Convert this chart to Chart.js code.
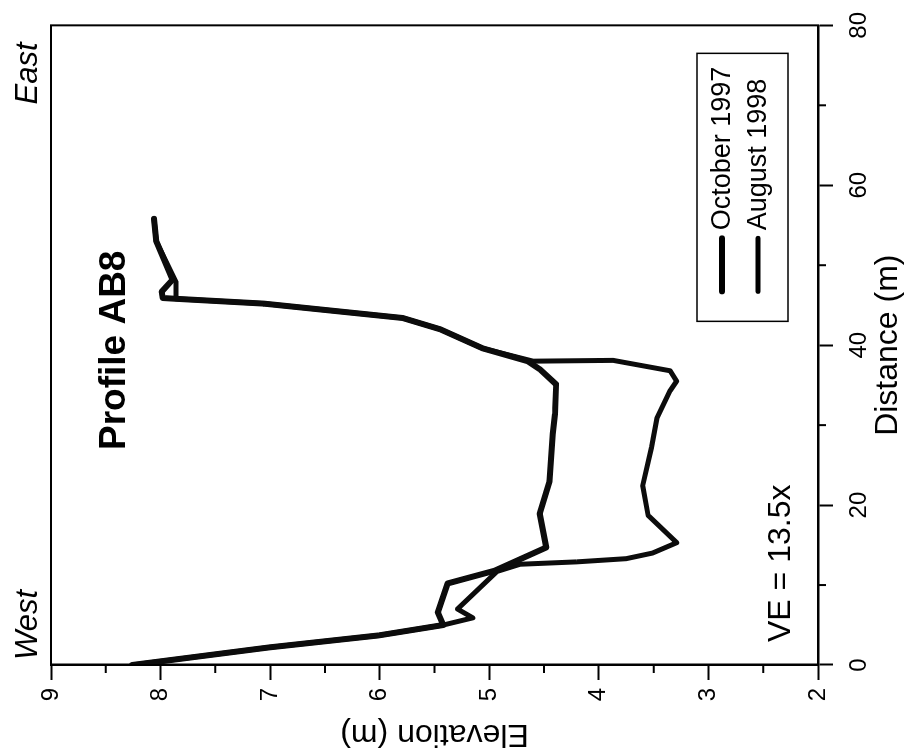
<!DOCTYPE html>
<html>
<head>
<meta charset="utf-8">
<script src="https://cdn.jsdelivr.net/npm/chart.js@4/dist/chart.umd.min.js"></script>
<style>
html, body { margin: 0; padding: 0; background: #fff; }
#wrap { position: relative; width: 907px; height: 755px; overflow: hidden; background: #fff; }
/* the chart is drawn upright, then the whole canvas is turned a quarter left like the scan */
#profile { position: absolute; left: 0; top: 0; transform-origin: 0 0; transform: translate(0, 755px) rotate(-90deg); }
</style>
</head>
<body>
<div id="wrap"><canvas id="profile" width="755" height="907"></canvas></div>
<script>
/* globals Chart: false */

// October 1997 profile (distance m, elevation m)
var octDist = [0, 2.2, 3.7, 5.0, 6.6, 10.2, 11.8, 14.7, 18.9, 23.0, 28.9, 31.4, 35.1, 37.0, 38.0, 39.6, 42.0, 43.4, 45.2, 45.8, 45.9, 46.7, 48.2, 53.0, 55.8];
var octElev = [8.26, 7.01, 6.01, 5.42, 5.47, 5.38, 4.95, 4.48, 4.54, 4.45, 4.42, 4.40, 4.39, 4.54, 4.65, 5.06, 5.45, 5.79, 7.06, 7.86, 7.98, 7.99, 7.89, 8.04, 8.06];

// August 1998 profile
var augDist = [0, 2.2, 3.7, 5.0, 5.9, 7.0, 11.7, 12.6, 12.9, 13.3, 14.0, 15.3, 18.7, 22.4, 27.2, 30.9, 34.3, 35.5, 36.8, 38.1, 38.0, 39.6, 42.0, 43.4, 45.2, 45.8, 47.9, 53.0, 55.8];
var augElev = [8.26, 7.01, 6.01, 5.42, 5.15, 5.29, 4.93, 4.72, 4.20, 3.75, 3.51, 3.29, 3.55, 3.60, 3.52, 3.47, 3.35, 3.29, 3.35, 3.87, 4.60, 5.06, 5.45, 5.79, 7.06, 7.86, 7.86, 8.04, 8.06];

var seriesLabels = ["October 1997", "August 1998"];
var distTicks = [0, 20, 40, 60, 80];
var distMinor = [10, 30, 50, 70];
var elevTicks = [2, 3, 4, 5, 6, 7, 8, 9];
var elevMinor = [2.5, 3.5, 4.5, 5.5, 6.5, 7.5, 8.5];

function pairs(xs, ys) {
    return xs.map(function(x, i) { return {x: x, y: ys[i]}; });
}

var FONT = '"Liberation Sans", Arial, Helvetica, sans-serif';
Chart.defaults.font.family = FONT;
Chart.defaults.color = '#000';

// frame, minor ticks, notes and the boxed legend
var decorations = {
    id: 'decorations',
    afterDraw: function(chart) {
        var ctx = chart.ctx;
        var ca = chart.chartArea;
        var xs = chart.scales.x, ys = chart.scales.y;
        ctx.save();
        ctx.strokeStyle = '#000';
        ctx.lineWidth = 2;
        ctx.strokeRect(ca.left, ca.top, ca.right - ca.left, ca.bottom - ca.top);

        ctx.beginPath();
        distMinor.forEach(function(v) {
            var px = xs.getPixelForValue(v);
            ctx.moveTo(px, ca.bottom);
            ctx.lineTo(px, ca.bottom + 8);
        });
        elevMinor.forEach(function(v) {
            var py = ys.getPixelForValue(v);
            ctx.moveTo(ca.left, py);
            ctx.lineTo(ca.left - 8, py);
        });
        ctx.stroke();

        ctx.fillStyle = '#000';
        ctx.textBaseline = 'alphabetic';
        ctx.font = 'italic 31px ' + FONT;
        ctx.textAlign = 'left';
        ctx.fillText('West', ca.left + 5, ca.top - 14);
        ctx.textAlign = 'right';
        ctx.fillText('East', ca.right - 17, ca.top - 14);

        ctx.textAlign = 'left';
        ctx.font = 'bold 37px ' + FONT;
        ctx.fillText('Profile AB8', ca.left + 215, ca.top + 74);

        ctx.font = '32px ' + FONT;
        ctx.fillText('VE = 13.5x', ca.left + 23, ca.bottom - 28);

        // legend box
        var bx = ca.right - 296, by = ca.bottom - 121, bw = 268, bh = 91;
        ctx.lineWidth = 1.5;
        ctx.strokeRect(bx, by, bw, bh);
        ctx.font = '27px ' + FONT;
        ctx.textBaseline = 'middle';
        chart.data.datasets.forEach(function(ds, i) {
            var ly = by + 25 + i * 36;
            ctx.beginPath();
            ctx.lineWidth = ds.borderWidth;
            ctx.lineCap = 'round';
            ctx.moveTo(bx + 30, ly);
            ctx.lineTo(bx + 83, ly);
            ctx.stroke();
            ctx.fillText(ds.label, bx + 91, ly + 1);
        });
        ctx.restore();
    }
};

var config = {
    type: 'scatter',
    data: {
        datasets: [
            {
                label: seriesLabels[0],
                data: pairs(octDist, octElev),
                showLine: true,
                borderColor: '#0c0c0c',
                borderWidth: 6,
                pointRadius: 0,
                tension: 0,
                borderJoinStyle: 'round',
                borderCapStyle: 'round'
            },
            {
                label: seriesLabels[1],
                data: pairs(augDist, augElev),
                showLine: true,
                borderColor: '#0c0c0c',
                borderWidth: 5,
                pointRadius: 0,
                tension: 0,
                borderJoinStyle: 'round',
                borderCapStyle: 'round'
            }
        ]
    },
    options: {
        responsive: false,
        animation: false,
        layout: { padding: { top: 51, right: 23, left: 0, bottom: 0 } },
        plugins: {
            legend: { display: false },
            tooltip: { enabled: false }
        },
        scales: {
            x: {
                type: 'linear',
                position: 'bottom',
                min: 0,
                max: 80,
                afterBuildTicks: function(s) { s.ticks = distTicks.map(function(v) { return {value: v}; }); },
                ticks: { font: { size: 24 }, padding: 12, maxRotation: 0, color: '#000' },
                grid: { drawOnChartArea: false, tickLength: 15, tickWidth: 2, tickColor: '#000' },
                border: { color: '#000', width: 2.5 },
                title: { display: true, text: 'Distance (m)', font: { size: 32 }, color: '#000', padding: { top: 0, bottom: 0 } },
                afterFit: function(s) { s.height = 89; }
            },
            y: {
                type: 'linear',
                position: 'left',
                min: 2,
                max: 9,
                afterBuildTicks: function(s) { s.ticks = elevTicks.map(function(v) { return {value: v}; }); },
                ticks: { font: { size: 24 }, padding: 8, color: '#000' },
                grid: { drawOnChartArea: false, tickLength: 15, tickWidth: 2, tickColor: '#000' },
                border: { color: '#000', width: 2.5 },
                title: { display: true, text: 'Elevation (m)', font: { size: 32 }, color: '#000', padding: { top: 2, bottom: 0 } },
                afterFit: function(s) { s.width = 90; }
            }
        }
    },
    plugins: [decorations]
};

var ctx = document.getElementById("profile").getContext("2d");
var profileChart = new Chart(ctx, config);
</script>
</body>
</html>
